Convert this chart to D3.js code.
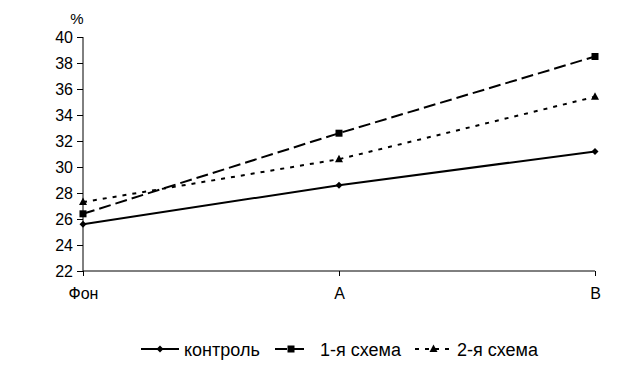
<!DOCTYPE html>
<meta charset="utf-8">
<style>
    body { margin: 0; background: #fff; }
    text { font-family: "Liberation Sans", Arial, sans-serif; fill: #000; }
</style>
<body>
<script src="https://cdn.jsdelivr.net/npm/d3@7"></script>
<script>

    var width = 633;
    var height = 388;

    var categories = ["Фон", "A", "B"];
    var yTicks = [22, 24, 26, 28, 30, 32, 34, 36, 38, 40];
    var kontrol = [25.6, 28.6, 31.2];
    var schema1 = [26.4, 32.6, 38.5];
    var schema2 = [27.3, 30.6, 35.4];
    var seriesNames = ["контроль", "1-я схема", "2-я схема"];

    var series = [
        { name: seriesNames[0], values: kontrol, dash: null, marker: "diamond" },
        { name: seriesNames[1], values: schema1, dash: "12,5", marker: "square" },
        { name: seriesNames[2], values: schema2, dash: "4,6", marker: "triangle" }
    ];

    var svg = d3.select("body").append("svg")
        .attr("width", width)
        .attr("height", height);

    var x = d3.scalePoint().domain(categories).range([83, 595]);
    var y = d3.scaleLinear().domain([22, 40]).range([271, 37]);

    // y axis
    var yAxis = svg.append("g")
        .attr("transform", "translate(83,0)")
        .call(d3.axisLeft(y).tickValues(yTicks).tickSize(6).tickPadding(4));
    yAxis.select(".domain").attr("stroke", "#000").attr("d", "M0,37V271");
    yAxis.selectAll("text").style("font-size", "16px");

    // x axis
    var xAxis = svg.append("g")
        .attr("transform", "translate(0,271)")
        .call(d3.axisBottom(x).tickSize(5).tickPadding(12));
    xAxis.select(".domain").attr("d", "M83,0H595");
    xAxis.selectAll("text").style("font-size", "16px");

    svg.append("text")
        .attr("x", 77).attr("y", 24)
        .attr("text-anchor", "middle")
        .style("font-size", "15px")
        .text("%");

    var line = d3.line()
        .x(function (d, i) { return x(categories[i]); })
        .y(function (d) { return y(d); });

    function marker(g, type, cx, cy) {
        if (type === "diamond") {
            g.append("path").attr("d", "M" + cx + "," + (cy - 3.5) + "L" + (cx + 3.5) + "," + cy +
                "L" + cx + "," + (cy + 3.5) + "L" + (cx - 3.5) + "," + cy + "Z").attr("fill", "#000");
        } else if (type === "square") {
            g.append("rect").attr("x", cx - 3.5).attr("y", cy - 3.5)
                .attr("width", 7).attr("height", 7).attr("fill", "#000");
        } else {
            g.append("path").attr("d", "M" + cx + "," + (cy - 4.5) + "L" + (cx + 4) + "," + (cy + 3) +
                "L" + (cx - 4) + "," + (cy + 3) + "Z").attr("fill", "#000");
        }
    }

    series.forEach(function (s) {
        svg.append("path")
            .attr("d", line(s.values))
            .attr("fill", "none")
            .attr("stroke", "#000")
            .attr("stroke-width", 2)
            .attr("stroke-dasharray", s.dash);
        var g = svg.append("g");
        s.values.forEach(function (v, i) {
            marker(g, s.marker, x(categories[i]), y(v));
        });
    });

    // legend
    var legendX = [141, 275, 415];
    var legendW = [38, 32, 37];
    var legend = svg.append("g");
    series.forEach(function (s, i) {
        var lx = legendX[i];
        legend.append("line")
            .attr("x1", lx).attr("x2", lx + legendW[i])
            .attr("y1", 349).attr("y2", 349)
            .attr("stroke", "#000").attr("stroke-width", 2)
            .attr("stroke-dasharray", s.dash);
        marker(legend, s.marker, lx + legendW[i] / 2, 349);
        legend.append("text")
            .attr("x", lx + legendW[i] + (i === 1 ? 13 : 5)).attr("y", 356)
            .style("font-size", "18px")
            .text(s.name);
    });

</script>
</body>
